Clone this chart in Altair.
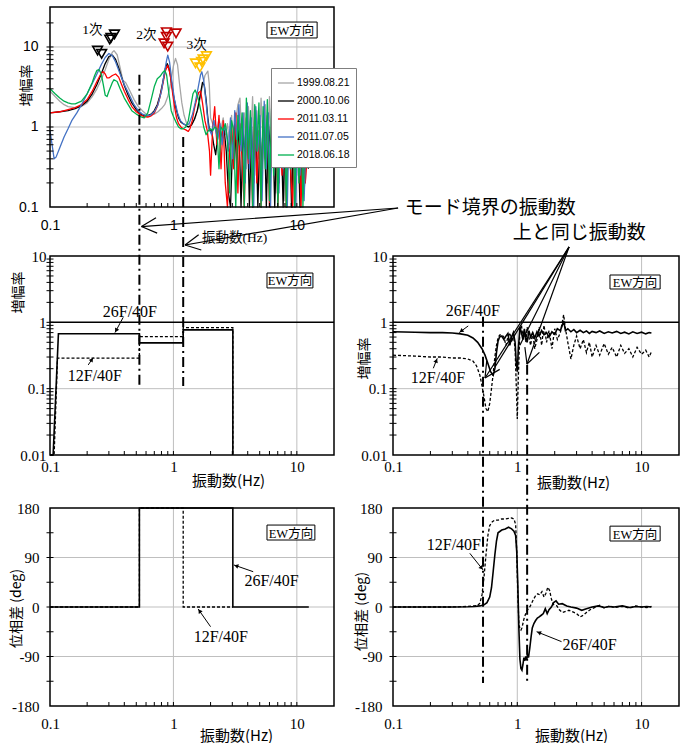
import math
import altair as alt
import pandas as pd

W, H = 689, 743
SERIF = "'Liberation Serif', 'Noto Sans CJK JP', serif"
SANS = "'Liberation Sans', 'Noto Sans CJK JP', sans-serif"
GOTHIC = "'Noto Sans CJK JP', sans-serif"
GRID = "#BFBFBF"
DASHDOT = [10, 4, 2, 4]

# ---------------- data: top-left spectra ----------------
SERIES = ["1999.08.21", "2000.10.06", "2011.03.11", "2011.07.05", "2018.06.18"]
SERIES_COLORS = ["#A6A6A6", "#000000", "#FF0000", "#4472C4", "#00B050"]
SERIES_WIDTHS = [1.3, 1.3, 2.0, 1.3, 1.3]

F_1999 = [0.10, 0.11, 0.12, 0.13, 0.14, 0.16, 0.18, 0.20, 0.22, 0.24,
          0.26, 0.28, 0.30, 0.32, 0.33, 0.35, 0.37, 0.39, 0.41, 0.44,
          0.48, 0.52, 0.56, 0.60, 0.65, 0.70, 0.75, 0.80, 0.85, 0.90,
          0.95, 1.00, 1.04, 1.08, 1.12, 1.17, 1.22, 1.28, 1.35, 1.42,
          1.50, 1.60, 1.70, 1.80, 1.90, 1.95]
A_1999 = [2.8, 2.4, 2.1, 1.9, 1.8, 1.75, 1.8, 2.0, 2.4, 3.0,
          3.9, 5.2, 7.0, 8.6, 9.0, 8.0, 5.5, 3.8, 3.6, 2.9,
          2.2, 1.8, 1.6, 1.45, 1.4, 1.45, 1.55, 1.7, 1.9, 2.4,
          3.5, 5.8, 7.2, 6.0, 3.5, 2.0, 1.4, 1.1, 1.05, 1.1,
          1.3, 1.8, 3.0, 4.4, 5.0, 3.5]

F_2000 = [0.10, 0.12, 0.14, 0.16, 0.18, 0.20, 0.22, 0.24, 0.26, 0.28,
          0.30, 0.32, 0.34, 0.36, 0.38, 0.40, 0.43, 0.46, 0.50, 0.54,
          0.58, 0.62, 0.66, 0.70, 0.74, 0.78, 0.82, 0.86, 0.89, 0.92,
          0.96, 1.00, 1.05, 1.10, 1.15, 1.20, 1.26, 1.32, 1.40, 1.48,
          1.56, 1.64, 1.72, 1.78, 1.84, 1.90, 1.96]
A_2000 = [1.5, 1.55, 1.6, 1.7, 1.85, 2.1, 2.6, 3.4, 4.6, 6.2,
          7.6, 7.9, 7.0, 5.5, 4.2, 3.3, 2.5, 2.0, 1.65, 1.45,
          1.38, 1.38, 1.45, 1.6, 1.9, 2.5, 3.6, 5.4, 6.2, 5.5,
          3.8, 2.5, 1.7, 1.3, 1.15, 1.1, 1.05, 1.0, 1.05, 1.25,
          1.6, 2.4, 3.6, 3.3, 2.2, 1.3, 0.9]

F_2011A = [0.10, 0.12, 0.14, 0.16, 0.18, 0.20, 0.22, 0.24, 0.26, 0.27,
           0.28, 0.29, 0.30, 0.32, 0.34, 0.36, 0.38, 0.40, 0.43, 0.46,
           0.50, 0.54, 0.58, 0.62, 0.66, 0.70, 0.74, 0.78, 0.82, 0.86,
           0.90, 0.94, 0.98, 1.02, 1.06, 1.10, 1.15, 1.20, 1.26, 1.32,
           1.36, 1.42, 1.48, 1.54, 1.60, 1.66, 1.72, 1.80, 1.88, 1.96]
A_2011A = [1.5, 1.55, 1.65, 1.75, 1.9, 2.2, 2.8, 3.7, 4.7, 4.9,
           4.6, 4.1, 4.1, 4.4, 4.6, 4.2, 3.4, 2.8, 2.2, 1.8,
           1.55, 1.42, 1.35, 1.33, 1.38, 1.5, 1.8, 2.4, 3.4, 5.0,
           5.9, 4.6, 2.8, 1.8, 1.3, 1.1, 1.0, 0.95, 0.92, 0.88,
           0.95, 1.2, 1.7, 2.2, 2.7, 2.8, 2.0, 1.2, 0.9, 0.5]

F_2011B = [0.100, 0.104, 0.108, 0.112, 0.12, 0.13, 0.14, 0.15, 0.165, 0.18,
           0.20, 0.22, 0.24, 0.26, 0.28, 0.30, 0.32, 0.34, 0.37, 0.40,
           0.44, 0.48, 0.52, 0.56, 0.60, 0.65, 0.70, 0.75, 0.80, 0.84,
           0.88, 0.90, 0.93, 0.97, 1.02, 1.08, 1.14, 1.20, 1.27, 1.34,
           1.42, 1.50, 1.58, 1.66, 1.70, 1.76, 1.84, 1.92]
A_2011B = [0.9, 0.6, 0.4, 0.42, 0.55, 0.75, 0.95, 1.2, 1.5, 1.9,
           2.6, 3.5, 4.6, 6.0, 7.4, 8.3, 7.8, 6.5, 4.6, 3.4,
           2.5, 1.9, 1.6, 1.45, 1.4, 1.4, 1.55, 1.9, 2.8, 4.5,
           6.8, 7.9, 6.5, 3.8, 2.2, 1.5, 1.2, 1.1, 1.05, 1.1,
           1.4, 2.0, 3.0, 4.5, 4.9, 3.8, 2.0, 1.0]

F_2018 = [0.10, 0.11, 0.12, 0.13, 0.14, 0.15, 0.16, 0.18, 0.20, 0.22,
          0.23, 0.24, 0.25, 0.26, 0.27, 0.28, 0.29, 0.30, 0.32, 0.33,
          0.35, 0.37, 0.40, 0.43, 0.46, 0.50, 0.54, 0.58, 0.62, 0.66,
          0.70, 0.74, 0.78, 0.82, 0.85, 0.88, 0.92, 0.96, 1.00, 1.05,
          1.10, 1.15, 1.20, 1.26, 1.32, 1.38, 1.44, 1.50, 1.56, 1.62,
          1.68, 1.76, 1.84, 1.92]
A_2018 = [3.0, 2.6, 2.3, 2.1, 2.0, 1.95, 1.95, 2.1, 2.6, 3.6,
          4.4, 5.1, 5.2, 4.6, 3.4, 2.5, 2.4, 2.8, 3.6, 3.9,
          3.7, 3.0, 2.3, 1.9, 1.6, 1.45, 1.35, 1.3, 1.5, 2.2,
          3.2, 4.0, 4.3, 4.8, 5.1, 4.5, 2.6, 1.6, 1.35, 1.15,
          1.0, 0.95, 0.95, 1.0, 1.2, 1.8, 2.6, 2.9, 2.5, 2.0,
          1.5, 1.0, 0.8, 0.9]

# high-frequency (noisy) part, two interleaved frequency grids
F_NOISE = [2.00, 2.08, 2.16, 2.25, 2.34, 2.43, 2.53, 2.63, 2.74, 2.85,
           2.96, 3.08, 3.20, 3.33, 3.46, 3.60, 3.75, 3.90, 4.05, 4.21,
           4.38, 4.56, 4.74, 4.93, 5.13, 5.33, 5.55, 5.77, 6.00, 6.24,
           6.49, 6.75, 7.02, 7.30, 7.59, 7.90, 8.21, 8.54, 8.88, 9.24,
           9.61, 9.99, 10.4, 10.8, 11.2, 11.7, 12.2]
F_NOISE_B = [2.04, 2.12, 2.20, 2.29, 2.38, 2.48, 2.58, 2.68, 2.79, 2.90,
             3.02, 3.14, 3.26, 3.39, 3.53, 3.67, 3.82, 3.97, 4.13, 4.29,
             4.47, 4.65, 4.83, 5.03, 5.23, 5.44, 5.66, 5.88, 6.12, 6.36,
             6.62, 6.88, 7.16, 7.44, 7.74, 8.05, 8.37, 8.71, 9.06, 9.42,
             9.80, 10.2, 10.6, 11.0, 11.45, 11.95, 12.4]
N_1999 = [1.3, 1.1, 1.2, 0.9, 1.25, 0.95, 1.3, 0.8, 1.1, 0.6,
          1.4, 0.35, 1.2, 1.9, 2.3, 0.6, 1.5, 0.3, 1.8, 0.5,
          2.4, 0.25, 1.6, 0.4, 2.3, 0.6, 1.9, 0.2, 2.4, 0.5,
          1.7, 0.15, 2.2, 0.4, 1.5, 0.12, 1.8, 0.3, 1.3, 0.08,
          1.6, 0.25, 1.2, 0.1, 0.9, 0.2, 0.6]
N_2000 = [0.9, 0.6, 0.45, 0.8, 1.0, 0.7, 0.9, 0.5, 0.15, 0.08,
          0.6, 1.1, 0.3, 1.2, 0.09, 0.9, 0.4, 1.3, 0.07, 1.0,
          0.2, 1.2, 0.08, 0.9, 0.3, 1.4, 0.06, 1.1, 0.5, 1.3,
          0.09, 0.8, 0.2, 1.2, 0.07, 0.9, 0.3, 1.1, 0.05, 0.8,
          0.2, 1.0, 0.08, 0.6, 0.15, 0.7, 0.3]
N_2011A = [0.25, 1.0, 1.8, 0.6, 1.4, 0.3, 1.2, 0.2, 0.07, 0.5,
           1.0, 0.3, 1.5, 0.15, 1.1, 0.4, 0.09, 1.3, 0.35, 1.0,
           0.08, 1.6, 0.2, 0.9, 0.06, 1.2, 0.4, 1.4, 0.1, 1.0,
           0.3, 1.5, 0.07, 0.8, 0.25, 1.3, 0.1, 1.1, 0.3, 0.07,
           1.2, 0.4, 0.9, 0.09, 0.7, 0.2, 0.5]
N_2011B = [0.8, 1.2, 0.9, 0.7, 1.1, 0.6, 1.0, 0.9, 0.5, 1.3,
           0.4, 1.6, 0.7, 1.9, 0.5, 1.5, 0.2, 2.0, 0.3, 1.3,
           0.1, 1.8, 0.5, 1.4, 0.12, 2.1, 0.3, 1.5, 0.08, 1.7,
           0.4, 1.2, 0.15, 1.9, 0.3, 1.4, 0.09, 1.6, 0.35, 1.1,
           0.1, 1.3, 0.25, 0.9, 0.12, 1.0, 0.4]
N_2018 = [0.95, 0.9, 1.0, 0.95, 0.3, 1.0, 0.9, 1.1, 0.7, 0.15,
          1.2, 0.9, 0.08, 1.4, 0.6, 1.5, 0.1, 2.3, 0.4, 1.6,
          0.09, 1.9, 0.5, 2.0, 0.1, 1.8, 0.3, 2.2, 0.12, 1.7,
          0.25, 2.0, 0.09, 1.6, 0.4, 1.9, 0.1, 1.5, 0.3, 1.8,
          0.08, 1.4, 0.2, 1.6, 0.1, 1.3, 0.5]

# peak markers (mode 1, 2, 3)
MODE_LABELS = ["1次", "2次", "3次"]
MODE_COLORS = ["#000000", "#C00000", "#FFC000"]
PEAK_F = [[0.243, 0.262, 0.305, 0.312, 0.333],
          [0.84, 0.877, 0.877, 0.899, 1.05],
          [1.51, 1.64, 1.69, 1.74, 1.85]]
PEAK_A = [[9.0, 8.2, 12.4, 13.0, 14.4],
          [11.1, 13.4, 15.3, 10.1, 14.8],
          [6.25, 5.57, 6.55, 7.0, 7.7]]
MODE_LABEL_F = [0.22, 0.604, 1.54]
MODE_LABEL_A = [16.3, 14.1, 10.6]

# mode boundary frequencies
MODE_BOUNDS = [0.53, 1.2]

# ---------------- data: middle-left (model amplitude ratio) ----------------
ML_F26 = [0.10, 0.106, 0.117, 0.53, 0.53, 1.2, 1.2, 3.03, 3.03]
ML_A26 = [0.01, 0.01, 0.674, 0.674, 0.49, 0.49, 0.77, 0.77, 0.01]
ML_F12 = [0.10, 0.108, 0.115, 0.53, 0.53, 1.2, 1.2, 3.03, 3.03]
ML_A12 = [0.01, 0.01, 0.288, 0.288, 0.61, 0.61, 0.83, 0.83, 0.01]

# ---------------- data: middle-right (observed amplitude ratio) ----------------
MR_F26 = [0.10, 0.15, 0.20, 0.25, 0.30, 0.35, 0.40, 0.44, 0.48, 0.52,
          0.55, 0.58, 0.61, 0.64, 0.66, 0.68, 0.70, 0.72, 0.75, 0.78,
          0.81, 0.84, 0.87, 0.90, 0.93, 0.96, 0.98, 1.00, 1.02, 1.05,
          1.08, 1.11, 1.14, 1.17, 1.20, 1.24, 1.28, 1.33, 1.38, 1.44,
          1.50, 1.57, 1.64, 1.72, 1.80, 1.90, 2.00, 2.10, 2.22, 2.30,
          2.36, 2.44, 2.55, 2.70, 2.85, 3.00, 3.20, 3.40, 3.60, 3.80,
          4.00, 4.30, 4.60, 5.00, 5.40, 5.80, 6.30, 6.80, 7.30, 7.90,
          8.50, 9.20, 10.0, 10.8, 11.5, 12.0]
MR_A26 = [0.72, 0.71, 0.70, 0.70, 0.69, 0.67, 0.64, 0.58, 0.50, 0.40,
          0.32, 0.24, 0.18, 0.16, 0.20, 0.35, 0.52, 0.60, 0.62, 0.55,
          0.62, 0.68, 0.45, 0.60, 0.70, 0.50, 0.25, 0.18, 0.40, 0.85,
          0.70, 0.55, 0.80, 0.60, 0.50, 0.75, 0.60, 0.70, 0.58, 0.72,
          0.62, 0.75, 0.65, 0.70, 0.60, 0.72, 0.66, 0.80, 0.75, 0.90,
          1.05, 0.75, 0.80, 0.72, 0.78, 0.70, 0.76, 0.70, 0.74, 0.68,
          0.73, 0.70, 0.74, 0.68, 0.72, 0.69, 0.73, 0.68, 0.71, 0.67,
          0.72, 0.68, 0.71, 0.67, 0.70, 0.69]
MR_F12 = [0.10, 0.15, 0.20, 0.25, 0.30, 0.35, 0.40, 0.44, 0.47, 0.50,
          0.52, 0.54, 0.56, 0.58, 0.60, 0.62, 0.64, 0.66, 0.68, 0.70,
          0.72, 0.75, 0.78, 0.81, 0.84, 0.87, 0.90, 0.93, 0.96, 0.98,
          1.00, 1.02, 1.05, 1.08, 1.11, 1.14, 1.17, 1.20, 1.24, 1.28,
          1.33, 1.38, 1.44, 1.50, 1.57, 1.64, 1.72, 1.80, 1.90, 2.00,
          2.10, 2.22, 2.30, 2.36, 2.44, 2.55, 2.70, 2.85, 3.00, 3.20,
          3.40, 3.60, 3.80, 4.00, 4.30, 4.60, 5.00, 5.40, 5.80, 6.30,
          6.80, 7.30, 7.90, 8.50, 9.20, 10.0, 10.8, 11.5, 12.0]
MR_A12 = [0.32, 0.31, 0.30, 0.30, 0.29, 0.29, 0.28, 0.26, 0.22, 0.16,
          0.11, 0.075, 0.05, 0.045, 0.06, 0.10, 0.17, 0.30, 0.45, 0.58,
          0.64, 0.65, 0.60, 0.45, 0.60, 0.70, 0.50, 0.65, 0.40, 0.12,
          0.035, 0.15, 0.80, 0.90, 0.60, 0.75, 0.50, 0.85, 0.60, 0.45,
          0.70, 0.40, 0.55, 0.85, 0.45, 0.90, 0.50, 0.75, 0.40, 0.80,
          0.55, 0.70, 1.00, 1.30, 0.80, 0.50, 0.28, 0.45, 0.62, 0.40,
          0.55, 0.35, 0.50, 0.30, 0.45, 0.32, 0.48, 0.33, 0.42, 0.30,
          0.45, 0.34, 0.40, 0.30, 0.42, 0.33, 0.38, 0.30, 0.36]

# ---------------- data: bottom-left (model phase) ----------------
BL_F26 = [0.10, 0.53, 0.53, 3.03, 3.03, 12.5]
BL_P26 = [0, 0, 180, 180, 0, 0]
BL_F12 = [0.10, 0.53, 0.53, 1.2, 1.2, 3.03]
BL_P12 = [0, 0, 180, 180, 0, 0]

# ---------------- data: bottom-right (observed phase) ----------------
BR_F26 = [0.10, 0.20, 0.30, 0.40, 0.45, 0.50, 0.54, 0.57, 0.60, 0.62,
          0.64, 0.66, 0.68, 0.70, 0.75, 0.80, 0.85, 0.90, 0.94, 0.97,
          0.99, 1.01, 1.03, 1.05, 1.07, 1.09, 1.11, 1.13, 1.15, 1.17,
          1.19, 1.21, 1.23, 1.26, 1.29, 1.32, 1.36, 1.40, 1.45, 1.50,
          1.56, 1.62, 1.68, 1.74, 1.80, 1.88, 1.96, 2.05, 2.15, 2.30,
          2.50, 2.70, 3.00, 3.30, 3.60, 4.00, 4.50, 5.00, 5.50, 6.00,
          7.00, 8.00, 9.00, 10.0, 11.0, 12.0]
BR_P26 = [0, 0, 0, 0.5, 1, 2, 4, 8, 18, 35,
          65, 95, 120, 135, 140, 142, 145, 142, 138, 130,
          100, 40, -40, -95, -112, -115, -105, -92, -98, -90,
          -96, -85, -92, -75, -55, -38, -30, -25, -20, -18,
          -15, -12, -3, -12, -5, 0, 8, 11, 5, 6,
          2, 0, -2, -6, -3, 0, 2, -1, 1, 0,
          2, -1, 1, 0, 1, 0]
BR_F12 = [0.10, 0.20, 0.30, 0.40, 0.45, 0.48, 0.50, 0.52, 0.54, 0.56,
          0.58, 0.60, 0.63, 0.66, 0.70, 0.75, 0.80, 0.85, 0.90, 0.94,
          0.97, 0.99, 1.01, 1.03, 1.05, 1.07, 1.09, 1.11, 1.13, 1.16,
          1.19, 1.22, 1.26, 1.30, 1.35, 1.40, 1.46, 1.52, 1.58, 1.64,
          1.70, 1.76, 1.82, 1.88, 1.94, 2.00, 2.08, 2.18, 2.30, 2.45,
          2.60, 2.80, 3.00, 3.20, 3.40, 3.60, 3.80, 4.00, 4.30, 4.60,
          5.00, 5.50, 6.00, 7.00, 8.00, 9.00, 10.0, 11.0, 12.0]
BR_P12 = [0, 0, 0, 1, 2, 3, 7, 22, 55, 95,
          130, 148, 155, 158, 158, 160, 160, 161, 162, 160,
          150, 100, 20, -30, -40, -42, -38, -30, -22, -14,
          -8, -4, 0, 6, 14, 20, 24, 22, 28, 18,
          25, 36, 30, 15, 5, 3, 2, -5, -10, -8,
          -6, -9, -12, -18, -15, -10, -6, -3, 0, 3,
          -2, 2, -1, 1, -2, 2, 0, -1, 1]

# ---------------- layout (pixel boxes of each plot area) ----------------
PANELS = {
    "tl": dict(x=(50, 334), y=(207, 7), ydom=(0.1, 31.6), ylog=True),
    "ml": dict(x=(50, 334), y=(455, 256), ydom=(0.01, 10), ylog=True),
    "mr": dict(x=(393, 679), y=(455, 256), ydom=(0.01, 10), ylog=True),
    "bl": dict(x=(50, 334), y=(706, 508), ydom=(-180, 180), ylog=False),
    "br": dict(x=(393, 679), y=(706, 508), ydom=(-180, 180), ylog=False),
}
XDOM = [0.1, 20]


def _t(lo, hi, v, log):
    if log:
        return (math.log10(v) - math.log10(lo)) / (math.log10(hi) - math.log10(lo))
    return (v - lo) / (hi - lo)


def _v(lo, hi, t, log):
    if log:
        return 10 ** (math.log10(lo) + t * (math.log10(hi) - math.log10(lo)))
    return lo + t * (hi - lo)


def px(p, f, v):
    d = PANELS[p]
    x0, x1 = d["x"]
    y0, y1 = d["y"]
    return (x0 + (x1 - x0) * _t(XDOM[0], XDOM[1], f, True),
            y0 + (y1 - y0) * _t(d["ydom"][0], d["ydom"][1], v, d["ylog"]))


def to_data(p, X, Y):
    d = PANELS[p]
    x0, x1 = d["x"]
    y0, y1 = d["y"]
    return (_v(XDOM[0], XDOM[1], (X - x0) / (x1 - x0), True),
            _v(d["ydom"][0], d["ydom"][1], (Y - y0) / (y1 - y0), d["ylog"]))


def xs(p, clamp=False):
    return alt.Scale(type="log", domain=XDOM, range=list(PANELS[p]["x"]), nice=False, clamp=clamp)


def ys(p, clamp=False):
    d = PANELS[p]
    if d["ylog"]:
        return alt.Scale(type="log", domain=list(d["ydom"]), range=list(d["y"]), nice=False, clamp=clamp)
    return alt.Scale(type="linear", domain=list(d["ydom"]), range=list(d["y"]),
                     nice=False, zero=False, clamp=clamp)


def enc(p, clamp=False, xaxis=None, yaxis=None):
    return {"x": alt.X("f:Q", scale=xs(p, clamp), axis=xaxis),
            "y": alt.Y("a:Q", scale=ys(p, clamp), axis=yaxis)}


layers = []


def grid(p, xvals, yvals, color=GRID, width=1.0):
    lo, hi = PANELS[p]["ydom"]
    if xvals:
        df = pd.DataFrame({"f": xvals, "a": [lo] * len(xvals), "a2": [hi] * len(xvals)})
        layers.append(alt.Chart(df).mark_rule(color=color, strokeWidth=width).encode(**enc(p), y2="a2"))
    if yvals:
        df = pd.DataFrame({"f": [XDOM[0]] * len(yvals), "f2": [XDOM[1]] * len(yvals), "a": yvals})
        layers.append(alt.Chart(df).mark_rule(color=color, strokeWidth=width).encode(**enc(p), x2="f2"))


def ticks(p, xt, yt):
    lo = PANELS[p]["ydom"][0]
    dfx = pd.DataFrame({"f": xt, "a": [lo] * len(xt)})
    layers.append(alt.Chart(dfx).mark_rule(color="black", strokeWidth=1, yOffset=-4, y2Offset=0)
                  .encode(**enc(p), y2="a"))
    dfy = pd.DataFrame({"f": [XDOM[0]] * len(yt), "a": yt})
    layers.append(alt.Chart(dfy).mark_rule(color="black", strokeWidth=1, xOffset=-3.5, x2Offset=3.5)
                  .encode(**enc(p), x2="f"))


LOG_LABEL = "datum.value < 0.05 ? '0.01' : (datum.value < 0.5 ? '0.1' : (datum.value < 5 ? '1' : '10'))"
PHASE_LABEL = "datum.value < 0 ? '-' + abs(datum.value) : '' + datum.value"


def x_axis(p, font, size, pad, title, tfont, tsize, tx, ty):
    return alt.Axis(orient="bottom", offset=PANELS[p]["y"][0] - H, values=[0.1, 1, 10],
                    labelExpr=LOG_LABEL, labelFont=font, labelFontSize=size, labelPadding=pad,
                    labelColor="black", labelFlush=False, labelOverlap=False,
                    ticks=False, domain=False, grid=False,
                    title=title, titleFont=tfont, titleFontSize=tsize, titleFontWeight="normal",
                    titleColor="black", titleX=tx, titleY=ty, titleAlign="center",
                    titleBaseline="middle", titleAngle=0)


def y_axis(p, values, expr, font, size, pad, title, tfont, tsize, tx, ty):
    return alt.Axis(orient="left", offset=-PANELS[p]["x"][0], values=values,
                    labelExpr=expr, labelFont=font, labelFontSize=size, labelPadding=pad,
                    labelColor="black", labelOverlap=False,
                    ticks=False, domain=False, grid=False,
                    title=title, titleFont=tfont, titleFontSize=tsize, titleFontWeight="normal",
                    titleColor="black", titleX=tx, titleY=ty, titleAlign="center",
                    titleBaseline="middle", titleAngle=270)


def frame(p, xaxis, yaxis):
    lo, hi = PANELS[p]["ydom"]
    df = pd.DataFrame({"f": [XDOM[0]], "f2": [XDOM[1]], "a": [lo], "a2": [hi]})
    layers.append(alt.Chart(df).mark_rect(fill="transparent", stroke="black", strokeWidth=1.5)
                  .encode(**enc(p, xaxis=xaxis, yaxis=yaxis), x2="f2", y2="a2"))


def ew_box(p, f0, f1, a0, a1):
    df = pd.DataFrame({"f": [f0], "f2": [f1], "a": [a0], "a2": [a1]})
    layers.append(alt.Chart(df).mark_rect(fill="white", stroke="black", strokeWidth=1)
                  .encode(**enc(p), x2="f2", y2="a2"))
    fc = math.sqrt(f0 * f1)
    ac = math.sqrt(a0 * a1) if PANELS[p]["ylog"] else (a0 + a1) / 2
    dft = pd.DataFrame({"f": [fc], "a": [ac], "t": ["EW方向"]})
    layers.append(alt.Chart(dft).mark_text(font=SERIF, fontSize=12.5, color="black", baseline="middle",
                                           align="center", dy=1).encode(**enc(p), text="t:N"))


def label(p, f, a, text, font=SERIF, size=16, align="center"):
    df = pd.DataFrame({"f": [f], "a": [a], "t": [text]})
    layers.append(alt.Chart(df).mark_text(font=font, fontSize=size, color="black", baseline="middle",
                                          align=align).encode(**enc(p), text="t:N"))


def segments(p, segs, width=1.2):
    df = pd.DataFrame({"f": [s[0][0] for s in segs], "a": [s[0][1] for s in segs],
                       "f2": [s[1][0] for s in segs], "a2": [s[1][1] for s in segs]})
    layers.append(alt.Chart(df).mark_rule(color="black", strokeWidth=width)
                  .encode(**enc(p), x2="f2", y2="a2"))


def open_arrow(p, tail, tip, length=17, spread=27):
    X0, Y0 = px(p, *tail)
    X1, Y1 = px(p, *tip)
    base = math.atan2(Y0 - Y1, X0 - X1)
    segs = [(tail, tip)]
    for s in (-1, 1):
        ang = base + s * math.radians(spread)
        segs.append((tip, to_data(p, X1 + length * math.cos(ang), Y1 + length * math.sin(ang))))
    return segs


def small_arrow(p, tail, tip):
    segments(p, [(tail, tip)], width=1)
    X0, Y0 = px(p, *tail)
    X1, Y1 = px(p, *tip)
    dx, dy = X1 - X0, Y1 - Y0
    L = math.hypot(dx, dy)
    ang = math.degrees(math.atan2(dx, -dy)) % 360
    f, a = to_data(p, X1 - dx / L * 2.5, Y1 - dy / L * 2.5)
    df = pd.DataFrame({"f": [f], "a": [a], "ang": [ang]})
    layers.append(alt.Chart(df).mark_point(shape="triangle-up", filled=True, size=22, color="black", opacity=1)
                  .encode(**enc(p), angle=alt.Angle("ang:Q", scale=None)))


def series_line(p, fs, vals, dash=None, width=1.5):
    df = pd.DataFrame({"f": fs, "a": vals, "i": list(range(len(fs)))})
    kw = dict(color="black", strokeWidth=width)
    if dash:
        kw["strokeDash"] = dash
    layers.append(alt.Chart(df).mark_line(**kw).encode(**enc(p, clamp=True), order="i:Q"))


LOG_X_TICKS = [0.2, 0.3, 0.4, 0.5, 0.6, 0.7, 0.8, 0.9, 1, 2, 3, 4, 5, 6, 7, 8, 9, 10]

# ================= TOP-LEFT =================
grid("tl", [1, 10], [1, 10])
rows = []
for name, fs, vs, fn, nz in [(SERIES[0], F_1999, A_1999, F_NOISE, N_1999),
                             (SERIES[1], F_2000, A_2000, F_NOISE_B, N_2000),
                             (SERIES[2], F_2011A, A_2011A, F_NOISE, N_2011A),
                             (SERIES[3], F_2011B, A_2011B, F_NOISE_B, N_2011B),
                             (SERIES[4], F_2018, A_2018, F_NOISE, N_2018)]:
    for f, a in zip(fs + fn, vs + nz):
        rows.append({"f": f, "a": a, "series": name})
tl_df = pd.DataFrame(rows)
layers.append(alt.Chart(tl_df).mark_line(strokeJoin="round").encode(
    **enc("tl", clamp=True),
    color=alt.Color("series:N", scale=alt.Scale(domain=SERIES, range=SERIES_COLORS),
                    legend=alt.Legend(orient="none", legendX=271, legendY=68, title=None,
                                      fillColor="white", strokeColor="#7F7F7F", padding=6,
                                      symbolType="stroke", symbolSize=260, symbolStrokeWidth=2,
                                      labelFont=SANS, labelFontSize=10.5, labelColor="black",
                                      rowPadding=3, labelOffset=2)),
    strokeWidth=alt.StrokeWidth("series:N", scale=alt.Scale(domain=SERIES, range=SERIES_WIDTHS), legend=None),
))

for k in range(3):
    dfp = pd.DataFrame({"f": PEAK_F[k], "a": PEAK_A[k]})
    layers.append(alt.Chart(dfp).mark_point(shape="triangle-down", filled=False, size=95, strokeWidth=1.6,
                                            color=MODE_COLORS[k], opacity=1).encode(**enc("tl")))
    label("tl", MODE_LABEL_F[k], MODE_LABEL_A[k], MODE_LABELS[k], font=SERIF, size=13.5)

ticks("tl", LOG_X_TICKS, [0.2, 0.3, 0.4, 0.5, 0.6, 0.7, 0.8, 0.9, 1, 2, 3, 4, 5, 6, 7, 8, 9, 10, 20])
frame("tl",
      x_axis("tl", SANS, 14, 11, "振動数(Hz)", SERIF, 13.5, 234, 30),
      y_axis("tl", [0.1, 1, 10], LOG_LABEL, SANS, 14, 12, "増幅率", GOTHIC, 14, -24, 85))
ew_box("tl", 5.73, 14.6, 12.96, 20.5)

# dash-dot lines (left column), drawn in middle-left coordinates
left_tops = [to_data("ml", *px("tl", MODE_BOUNDS[0], 4.5))[1], to_data("ml", *px("tl", MODE_BOUNDS[1], 0.75))[1]]
dd_left = pd.DataFrame({"f": MODE_BOUNDS, "a": left_tops, "a2": [0.11, 0.11]})
layers.append(alt.Chart(dd_left).mark_rule(color="black", strokeWidth=2, strokeDash=DASHDOT)
              .encode(**enc("ml"), y2="a2"))

# "モード境界の振動数" annotation
MB_ORIGIN = (66.1, 0.0972)
MB_TIPS = [(0.551, 0.057), (1.242, 0.0335)]
segs = []
for tip in MB_TIPS:
    segs += open_arrow("tl", MB_ORIGIN, tip)
segments("tl", segs, width=1.2)
label("tl", 75.0, 0.0972, "モード境界の振動数", font=GOTHIC, size=19, align="left")

# ================= MIDDLE-LEFT =================
grid("ml", [1, 10], [0.1])
grid("ml", [], [1], color="black", width=1.5)
series_line("ml", ML_F12, ML_A12, dash=[3, 2], width=1.3)
series_line("ml", ML_F26, ML_A26, width=1.6)
AMP_Y_TICKS = [0.02, 0.03, 0.04, 0.05, 0.06, 0.07, 0.08, 0.09, 0.1, 0.2, 0.3, 0.4, 0.5, 0.6, 0.7, 0.8, 0.9,
               1, 2, 3, 4, 5, 6, 7, 8, 9]
ticks("ml", LOG_X_TICKS, AMP_Y_TICKS)
frame("ml",
      x_axis("ml", SERIF, 15, 4, "振動数(Hz)", GOTHIC, 15, 228, 25),
      y_axis("ml", [0.01, 0.1, 1, 10], LOG_LABEL, SERIF, 15, 4, "増幅率", GOTHIC, 14, -32, 292))
ew_box("ml", 5.73, 13.5, 3.30, 5.54)
label("ml", 0.444, 1.44, "26F/40F")
small_arrow("ml", (0.392, 1.19), (0.336, 0.70))
label("ml", 0.231, 0.155, "12F/40F")
small_arrow("ml", (0.204, 0.228), (0.224, 0.295))

# ================= MIDDLE-RIGHT =================
grid("mr", [1, 10], [0.1])
grid("mr", [], [1], color="black", width=1.5)
series_line("mr", MR_F12, MR_A12, dash=[3, 2], width=1.3)
series_line("mr", MR_F26, MR_A26, width=1.6)
ticks("mr", LOG_X_TICKS, AMP_Y_TICKS)
frame("mr",
      x_axis("mr", SERIF, 15, 4, "振動数(Hz)", GOTHIC, 15, 573, 27),
      y_axis("mr", [0.01, 0.1, 1, 10], LOG_LABEL, SERIF, 15, 6, "増幅率", GOTHIC, 14, -29, 358))
ew_box("mr", 5.57, 14.1, 3.18, 5.17)
label("mr", 0.439, 1.49, "26F/40F")
small_arrow("mr", (0.403, 0.883), (0.341, 0.70))
label("mr", 0.23, 0.145, "12F/40F")
small_arrow("mr", (0.211, 0.203), (0.227, 0.287))

# "上と同じ振動数" annotation
SAME_ORIGIN = (2.61, 13.7)
SAME_TIPS = [(0.550, 0.145), (1.197, 0.2355)]
SAME_LINES = [(0.66, 0.21), (1.05, 0.45)]
segs = []
for tip in SAME_TIPS:
    segs += open_arrow("mr", SAME_ORIGIN, tip)
for end in SAME_LINES:
    segs.append((SAME_ORIGIN, end))
segments("mr", segs, width=1.2)
label("mr", 0.92, 22.3, "上と同じ振動数", font=GOTHIC, size=19, align="left")

# ================= BOTTOM-LEFT =================
grid("bl", [1, 10], [-90, 0, 90])
series_line("bl", BL_F12, BL_P12, dash=[3, 2], width=1.3)
series_line("bl", BL_F26, BL_P26, width=1.6)
PHASE_TICKS = [-135, -90, -45, 0, 45, 90, 135]
ticks("bl", LOG_X_TICKS, PHASE_TICKS)
frame("bl",
      x_axis("bl", SERIF, 15, 10, "振動数(Hz)", GOTHIC, 15, 236, 29),
      y_axis("bl", [-180, -90, 0, 90, 180], PHASE_LABEL, SERIF, 15, 11, "位相差 (deg)", GOTHIC, 14, -34, 608))
ew_box("bl", 5.73, 14.0, 121.8, 149)
label("bl", 6.24, 47.3, "26F/40F")
small_arrow("bl", (4.43, 64.2), (3.09, 76.4))
label("bl", 2.42, -54, "12F/40F")
small_arrow("bl", (2.0, -35.8), (1.585, -3.6))

# ================= BOTTOM-RIGHT =================
grid("br", [1, 10], [-90, 0, 90])
series_line("br", BR_F12, BR_P12, dash=[3, 2], width=1.3)
series_line("br", BR_F26, BR_P26, width=1.6)
ticks("br", LOG_X_TICKS, PHASE_TICKS)
frame("br",
      x_axis("br", SERIF, 15, 10, "振動数(Hz)", GOTHIC, 15, 571, 29),
      y_axis("br", [-180, -90, 0, 90, 180], PHASE_LABEL, SERIF, 15, 11, "位相差 (deg)", GOTHIC, 14, -32, 611))
ew_box("br", 5.57, 14.1, 120, 147)
label("br", 0.309, 112.7, "12F/40F")
small_arrow("br", (0.415, 97.6), (0.531, 67.3))
label("br", 3.82, -69, "26F/40F")
small_arrow("br", (2.27, -63), (1.43, -44.9))

# dash-dot lines (right column), drawn in bottom-right coordinates
right_tops = [to_data("br", *px("mr", MODE_BOUNDS[0], 1.21))[1], to_data("br", *px("mr", MODE_BOUNDS[1], 0.23))[1]]
dd_right = pd.DataFrame({"f": MODE_BOUNDS, "a": right_tops, "a2": [-138, -138]})
layers.append(alt.Chart(dd_right).mark_rule(color="black", strokeWidth=2, strokeDash=DASHDOT)
              .encode(**enc("br"), y2="a2"))

chart = (
    alt.layer(*layers)
    .resolve_scale(x="independent", y="independent", color="independent", strokeWidth="independent")
    .resolve_axis(x="independent", y="independent")
    .properties(width=W, height=H, autosize=alt.AutoSizeParams(type="none"), padding=0, background="white")
    .configure_view(strokeWidth=0)
)

chart.save("out.html", embed_options={"renderer": "svg", "actions": False})
